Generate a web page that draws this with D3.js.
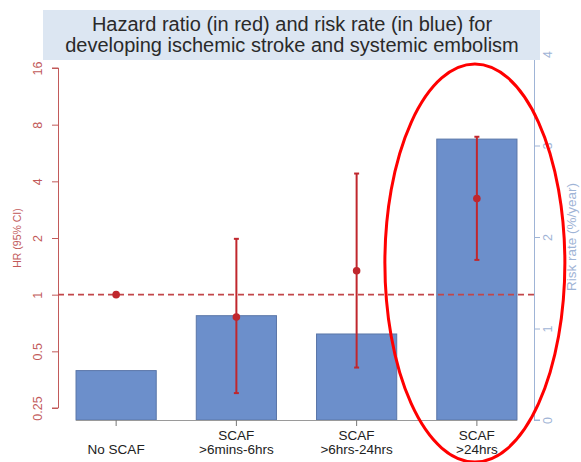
<!DOCTYPE html>
<html>
<head>
<meta charset="utf-8">
<script src="https://cdn.jsdelivr.net/npm/d3@7"></script>
<style>
  html, body { margin: 0; padding: 0; background: #fff; }
  svg { display: block; font-family: "Liberation Sans", Arial, sans-serif; }
</style>
</head>
<body>
<svg id="chart" width="581" height="462"></svg>
<script>
// Categories and values
const categories = ["No SCAF", "SCAF\n>6mins-6hrs", "SCAF\n>6hrs-24hrs", "SCAF\n>24hrs"];
const riskRate = [0.54, 1.14, 0.94, 3.07];          // %/year (blue bars)
const hazardRatio = [1, 0.76, 1.34, 3.24];          // HR point estimates (red)
const hrLower = [null, 0.30, 0.41, 1.53];           // 95% CI lower
const hrUpper = [null, 1.98, 4.4, 6.9];             // 95% CI upper
const hrTicks = [0.25, 0.5, 1, 2, 4, 8, 16];
const rateTicks = [0, 1, 2, 3, 4];
const titleLines = ["Hazard ratio (in red) and risk rate (in blue) for",
                    "developing ischemic stroke and systemic embolism"];

const svg = d3.select("#chart");

const x = d3.scaleBand().domain(categories).range([56, 537])
  .paddingInner(0.333).paddingOuter(0.1665);
const yHR = d3.scaleLog().base(2).domain([0.25, 16]).range([408, 68]);
const yRate = d3.scaleLinear().domain([0, 4]).range([420, 54]);

const redAxis = "#c25a5a", redMark = "#c0272d", blueAxis = "#9fb4d6";

// Bars (risk rate)
svg.append("g").selectAll("rect").data(categories).join("rect")
  .attr("x", d => x(d))
  .attr("y", (d, i) => yRate(riskRate[i]))
  .attr("width", x.bandwidth())
  .attr("height", (d, i) => yRate(0) - yRate(riskRate[i]))
  .attr("fill", "#6c8fcb")
  .attr("stroke", "#5a76a8")
  .attr("stroke-width", 1);

// Bottom axis
const xAxis = d3.axisBottom(x).tickSize(6).tickFormat("");
const gx = svg.append("g").attr("transform", `translate(0,${yRate(0)})`).call(xAxis);
gx.select(".domain").attr("d", `M${x(categories[0])},0.5H${x(categories[3]) + x.bandwidth()}`)
  .attr("stroke", "#9a9a9a");
gx.selectAll(".tick line").attr("stroke", "#777");

// Category labels
const labels = svg.append("g").attr("font-size", 13.5).attr("fill", "#222").attr("text-anchor", "middle");
categories.forEach(c => {
  const lines = c.split("\n");
  const cx = x(c) + x.bandwidth() / 2;
  lines.forEach((ln, j) => {
    const yy = 454 - (lines.length - 1 - j) * 14;
    labels.append("text").attr("x", cx).attr("y", yy).text(ln);
  });
});

// Left axis (HR, log scale)
const gl = svg.append("g").attr("transform", "translate(58,0)")
  .call(d3.axisLeft(yHR).tickValues(hrTicks).tickSize(6).tickFormat(d => String(d)));
gl.select(".domain").attr("stroke", redAxis).attr("d", `M-6,${yHR(16)}H0.5V${yHR(0.25)}H-6`);
gl.selectAll(".tick line").attr("stroke", redAxis);
gl.selectAll(".tick text")
  .attr("fill", redAxis).attr("font-size", 12.5)
  .attr("x", 0).attr("dy", 0).attr("text-anchor", "middle")
  .attr("transform", "translate(-16,0) rotate(-90)");
svg.append("text").attr("transform", `translate(21,${(yHR(16) + yHR(0.25)) / 2}) rotate(-90)`)
  .attr("text-anchor", "middle").attr("font-size", 10.5).attr("fill", redAxis)
  .text("HR (95% CI)");

// Right axis (risk rate)
const gr = svg.append("g").attr("transform", "translate(534,0)")
  .call(d3.axisRight(yRate).tickValues(rateTicks).tickSize(6).tickFormat(d3.format("d")));
gr.select(".domain").attr("stroke", blueAxis).attr("d", `M6,${yRate(4)}H0.5V${yRate(0)}H6`);
gr.selectAll(".tick line").attr("stroke", blueAxis);
gr.selectAll(".tick text")
  .attr("fill", blueAxis).attr("font-size", 12.5)
  .attr("x", 0).attr("dy", 0).attr("text-anchor", "middle")
  .attr("transform", "translate(18,0) rotate(-90)");
svg.append("text").attr("transform", `translate(576,${(yRate(0) + yRate(4)) / 2}) rotate(-90)`)
  .attr("text-anchor", "middle").attr("font-size", 13.5).attr("fill", blueAxis)
  .text("Risk rate (%/year)");

// Reference line at HR = 1
svg.append("line")
  .attr("x1", 58).attr("x2", 534)
  .attr("y1", yHR(1)).attr("y2", yHR(1))
  .attr("stroke", "#c2474a").attr("stroke-width", 1.6)
  .attr("stroke-dasharray", "6,4");

// Error bars (95% CI)
const eb = svg.append("g").attr("stroke", redMark).attr("stroke-width", 2);
categories.forEach((c, i) => {
  if (hrLower[i] == null) return;
  const cx = x(c) + x.bandwidth() / 2;
  eb.append("line").attr("x1", cx).attr("x2", cx)
    .attr("y1", yHR(hrLower[i])).attr("y2", yHR(hrUpper[i]));
  [hrLower[i], hrUpper[i]].forEach(v => {
    eb.append("line").attr("x1", cx - 2.5).attr("x2", cx + 2.5)
      .attr("y1", yHR(v)).attr("y2", yHR(v));
  });
});

// HR points
svg.append("g").selectAll("circle").data(categories).join("circle")
  .attr("cx", d => x(d) + x.bandwidth() / 2)
  .attr("cy", (d, i) => yHR(hazardRatio[i]))
  .attr("r", 3.8)
  .attr("fill", redMark);

// Title box
svg.append("rect").attr("x", 43).attr("y", 10).attr("width", 497).attr("height", 50)
  .attr("fill", "#dce6f2");
const tt = svg.append("g").attr("font-size", 20).attr("fill", "#2a2a2a").attr("text-anchor", "middle");
titleLines.forEach((t, j) => {
  tt.append("text").attr("x", 292).attr("y", 31 + j * 21).text(t);
});

// Highlight ellipse around the last category
const last = categories[3];
svg.append("ellipse")
  .attr("cx", x(last) + x.bandwidth() / 2 - 2)
  .attr("cy", 263)
  .attr("rx", 90).attr("ry", 199)
  .attr("fill", "none").attr("stroke", "#ff0000").attr("stroke-width", 3);
</script>
</body>
</html>
